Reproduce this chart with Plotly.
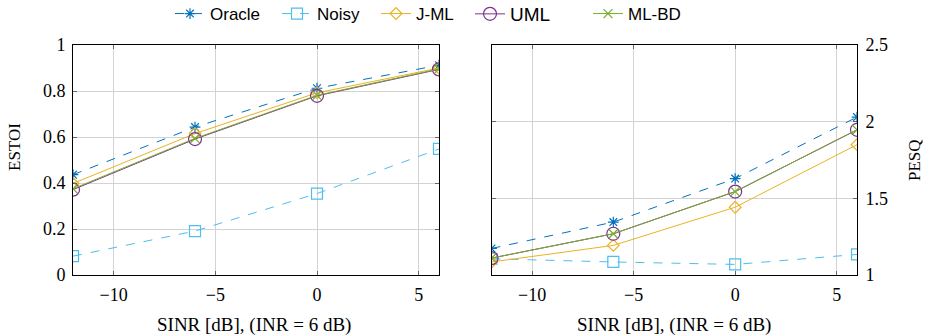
import plotly.graph_objects as go

sinr = [-12, -6, 0, 6]

estoi_oracle = [0.436, 0.643, 0.812, 0.912]
estoi_noisy = [0.082, 0.191, 0.354, 0.548]
estoi_jml = [0.398, 0.615, 0.792, 0.900]
estoi_uml = [0.371, 0.591, 0.779, 0.894]
estoi_mlbd = [0.375, 0.594, 0.781, 0.896]

pesq_oracle = [1.173, 1.345, 1.629, 2.030]
pesq_noisy = [1.106, 1.085, 1.069, 1.134]
pesq_jml = [1.085, 1.193, 1.442, 1.850]
pesq_uml = [1.110, 1.269, 1.544, 1.947]
pesq_mlbd = [1.110, 1.269, 1.544, 1.947]

names = ["Oracle", "Noisy", "J-ML", "UML", "ML-BD"]
colors = ["#0072BD", "#4DBEEE", "#EDB120", "#7E2F8E", "#77AC30"]
symbols = ["asterisk-open", "square-open", "diamond-open", "circle-open", "x-thin-open"]
dashes = ["dash", "dash", "solid", "solid", "solid"]
msizes = [9, 11, 9, 13, 9]
legend_ids = ["legend", "legend2", "legend3", "legend4", "legend5"]
legend_px = [170, 277, 376, 470, 588]
legend_fs = [17, 17, 17, 19, 17]

left = [estoi_oracle, estoi_noisy, estoi_jml, estoi_uml, estoi_mlbd]
right = [pesq_oracle, pesq_noisy, pesq_jml, pesq_uml, pesq_mlbd]

fig = go.Figure()
for i in range(5):
    fig.add_trace(go.Scatter(
        x=sinr, y=left[i], name=names[i], mode="lines+markers",
        line=dict(color=colors[i], width=1, dash=dashes[i]),
        marker=dict(symbol=symbols[i], size=msizes[i], color=colors[i],
                    line=dict(color=colors[i], width=1.2)),
        xaxis="x", yaxis="y", legendgroup=names[i], legend=legend_ids[i]))
for i in range(5):
    fig.add_trace(go.Scatter(
        x=sinr, y=right[i], name=names[i], mode="lines+markers",
        line=dict(color=colors[i], width=1, dash=dashes[i]),
        marker=dict(symbol=symbols[i], size=msizes[i], color=colors[i],
                    line=dict(color=colors[i], width=1.2)),
        xaxis="x2", yaxis="y2", legendgroup=names[i], showlegend=False))

serif = "Liberation Serif"
tickfont = dict(family=serif, size=18, color="black")
ax_common = dict(showline=True, linecolor="black", linewidth=1, mirror="allticks",
                 ticks="inside", ticklen=4, tickcolor="#666", showgrid=True,
                 gridcolor="#d3d3d3", gridwidth=1, zeroline=False,
                 tickfont=tickfont, automargin=False)

y0 = 1 - 275 / 335
y1 = 1 - 45 / 335

layout_legends = {}
for i, lid in enumerate(legend_ids):
    layout_legends[lid] = dict(
        orientation="h", x=legend_px[i] / 926, xanchor="left",
        y=1 - 14 / 335, yanchor="middle",
        font=dict(family="Liberation Sans", size=legend_fs[i], color="black"),
        bgcolor="rgba(0,0,0,0)", borderwidth=0, itemwidth=30)

fig.update_layout(
    width=926, height=335,
    margin=dict(l=0, r=0, t=0, b=0, autoexpand=False),
    font=dict(family=serif, size=18, color="black"),
    plot_bgcolor="white", paper_bgcolor="white",
    showlegend=True,
    xaxis=dict(domain=[73 / 926, 439 / 926], range=[-12, 6],
               tickvals=[-10, -5, 0, 5], anchor="y", ticklabelstandoff=3, **ax_common),
    yaxis=dict(domain=[y0, y1], range=[0, 1], tickvals=[0, 0.2, 0.4, 0.6, 0.8, 1],
               ticktext=["0", "0.2", "0.4", "0.6", "0.8", "1"], anchor="x",
               ticklabelstandoff=3, **ax_common),
    xaxis2=dict(domain=[491.5 / 926, 857 / 926], range=[-12, 6],
                tickvals=[-10, -5, 0, 5], anchor="y2", ticklabelstandoff=3, **ax_common),
    yaxis2=dict(domain=[y0, y1], range=[1, 2.5], tickvals=[1, 1.5, 2, 2.5],
                ticktext=["1", "1.5", "2", "2.5"], side="right", anchor="x2",
                ticklabelstandoff=4, **ax_common),
    **layout_legends,
)

ann_font = dict(family=serif, size=19, color="black")
fig.add_annotation(text="SINR [dB], (INR = 6 dB)", xref="paper", yref="paper",
                   x=254 / 926, y=1 - 325 / 335, xanchor="center", yanchor="middle",
                   showarrow=False, font=ann_font)
fig.add_annotation(text="SINR [dB], (INR = 6 dB)", xref="paper", yref="paper",
                   x=674 / 926, y=1 - 325 / 335, xanchor="center", yanchor="middle",
                   showarrow=False, font=ann_font)
fig.add_annotation(text="ESTOI", xref="paper", yref="paper", textangle=-90,
                   x=14 / 926, y=1 - 147 / 335, xanchor="center", yanchor="middle",
                   showarrow=False, font=dict(family=serif, size=17, color="black"))
fig.add_annotation(text="PESQ", xref="paper", yref="paper", textangle=-90,
                   x=914 / 926, y=1 - 160 / 335, xanchor="center", yanchor="middle",
                   showarrow=False, font=dict(family=serif, size=17, color="black"))

fig.write_html("out.html")
